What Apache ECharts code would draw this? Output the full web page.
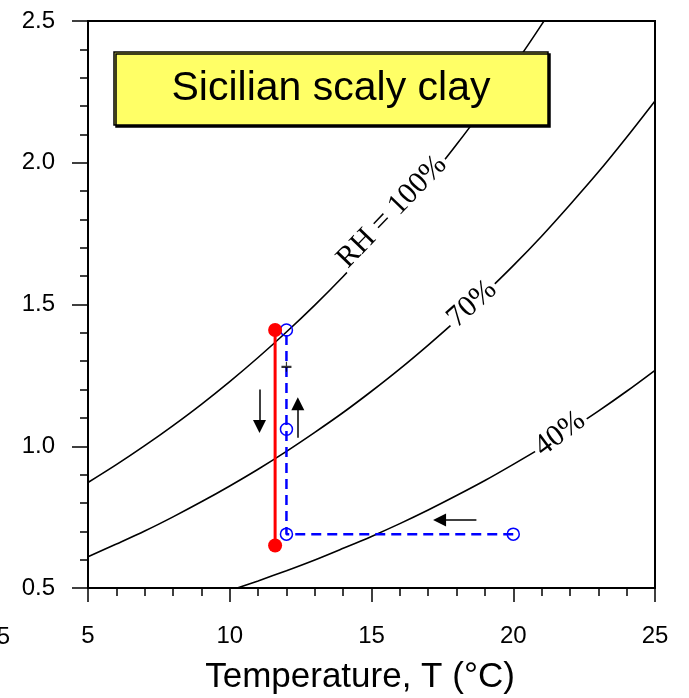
<!DOCTYPE html>
<html>
<head>
<meta charset="utf-8">
<script src="https://cdn.jsdelivr.net/npm/echarts@6/dist/echarts.min.js"></script>
<style>
  html, body { margin: 0; padding: 0; background: #fff; }
  #chart { width: 689px; height: 698px; }
</style>
</head>
<body>
<div id="chart"></div>
<script>
// Vapour pressure (kPa) against temperature for three relative humidities
const temps = [5, 6, 7, 8, 9, 10, 11, 12, 13, 14, 15, 16, 17, 18, 19, 20, 21, 22, 23, 24, 25];
const rh100 = [0.872, 0.935, 1.002, 1.073, 1.148, 1.228, 1.313, 1.403, 1.498, 1.599, 1.706, 1.818, 1.938, 2.064, 2.198, 2.339, 2.487, 2.645, 2.810, 2.985, 3.169];
const rh70  = [0.610, 0.655, 0.701, 0.751, 0.804, 0.860, 0.919, 0.982, 1.049, 1.119, 1.194, 1.273, 1.357, 1.445, 1.539, 1.637, 1.741, 1.852, 1.967, 2.090, 2.218];
const rh40  = [0.349, 0.374, 0.401, 0.429, 0.459, 0.491, 0.525, 0.561, 0.599, 0.640, 0.682, 0.727, 0.775, 0.826, 0.879, 0.936, 0.995, 1.058, 1.124, 1.194, 1.268];

// Test paths: cooling at constant vapour pressure then wetting (blue), drying (red)
const bluePathT = [20, 12, 12, 12];
const bluePathP = [0.69, 0.69, 1.06, 1.41];
const redPathT = [11.6, 11.6];
const redPathP = [1.41, 0.65];
const crossT = [12.0];
const crossP = [1.28];

// Direction arrows: [from, to]
const arrowDown = [[11.05, 1.20], [11.05, 1.07]];
const arrowUp = [[12.4, 1.03], [12.4, 1.15]];
const arrowLeft = [[18.7, 0.74], [17.4, 0.74]];

const xTicks = [5, 10, 15, 20, 25];
const yTicks = [0.5, 1.0, 1.5, 2.0, 2.5];

const zip = (xs, ys) => xs.map((x, i) => [x, ys[i]]);

const sans = 'Liberation Sans, Arial, sans-serif';
const serif = 'Liberation Serif, Times New Roman, serif';

const chart = echarts.init(document.getElementById('chart'), null, { renderer: 'canvas' });

const curve = (name, ys) => ({
  name, type: 'line', data: zip(temps, ys), smooth: 0.3, showSymbol: false,
  lineStyle: { color: '#000', width: 1.6 }, z: 2, silent: true
});

const centred = { align: 'center', verticalAlign: 'middle', textAlign: 'center', textVerticalAlign: 'middle' };

chart.setOption({
  animation: false,
  backgroundColor: '#fff',
  grid: { left: 88, right: 34, top: 21, bottom: 110, show: true, borderColor: '#000', borderWidth: 2, backgroundColor: 'transparent' },
  xAxis: {
    type: 'value', min: xTicks[0], max: xTicks[xTicks.length - 1], interval: 5,
    axisLine: { lineStyle: { color: '#000', width: 2 } },
    axisTick: { inside: false, length: 14, lineStyle: { color: '#000', width: 1.5 } },
    minorTick: { show: true, splitNumber: 5, length: 8, lineStyle: { color: '#000', width: 1.5 } },
    splitLine: { show: false },
    axisLabel: { color: '#000', fontFamily: sans, fontSize: 24, margin: 36 }
  },
  yAxis: {
    type: 'value', min: yTicks[0], max: yTicks[yTicks.length - 1], interval: 0.5,
    axisLine: { lineStyle: { color: '#000', width: 2 } },
    axisTick: { inside: false, length: 16, lineStyle: { color: '#000', width: 1.5 } },
    minorTick: { show: true, splitNumber: 5, length: 8, lineStyle: { color: '#000', width: 1.5 } },
    splitLine: { show: false },
    axisLabel: { color: '#000', fontFamily: sans, fontSize: 24, margin: 33, formatter: v => v.toFixed(1) }
  },
  series: [
    curve('RH 100%', rh100),
    curve('RH 70%', rh70),
    curve('RH 40%', rh40),
    {
      name: 'wetting', type: 'line', data: zip(bluePathT, bluePathP), z: 5,
      symbol: 'circle', symbolSize: 12, showSymbol: true,
      itemStyle: { color: 'transparent', borderColor: '#0000ff', borderWidth: 1.5 },
      lineStyle: { color: '#0000ff', width: 2.5, type: [10, 6] }
    },
    {
      name: 'mark', type: 'scatter', data: zip(crossT, crossP), z: 6,
      symbol: 'path://M0,4.4H10V5.6H0Z M4.4,2.5H5.6V7.5H4.4Z', symbolSize: 10,
      itemStyle: { color: '#000' }
    },
    {
      name: 'drying', type: 'line', data: zip(redPathT, redPathP), z: 7,
      symbol: 'circle', symbolSize: 14, showSymbol: true,
      itemStyle: { color: '#ff0000' },
      lineStyle: { color: '#ff0000', width: 3 }
    },
    {
      name: 'arrows', type: 'lines', coordinateSystem: 'cartesian2d', z: 8,
      symbol: ['none', 'triangle'], symbolSize: [10, 13],
      lineStyle: { color: '#000', width: 1.5, opacity: 1 },
      data: [arrowDown, arrowUp, arrowLeft].map(c => ({ coords: c }))
    }
  ],
  graphic: [
    {
      type: 'rect', z: 100, shape: { x: 114, y: 52, width: 434, height: 73 },
      style: { fill: '#ffff66', stroke: '#000', lineWidth: 1.5, shadowColor: '#000', shadowOffsetX: 2, shadowOffsetY: 2, shadowBlur: 0 }
    },
    {
      type: 'text', z: 101, x: 331, y: 89,
      style: Object.assign({ text: 'Sicilian scaly clay', font: '41px ' + sans, fill: '#000' }, centred)
    },
    {
      type: 'text', z: 100, x: 392, y: 212, rotation: 46 * Math.PI / 180,
      style: Object.assign({ text: 'RH = 100%', font: '30px ' + serif, fill: '#000', backgroundColor: '#fff', padding: [0, 3] }, centred)
    },
    {
      type: 'text', z: 100, x: 472, y: 304, rotation: 42 * Math.PI / 180,
      style: Object.assign({ text: '70%', font: '30px ' + serif, fill: '#000', backgroundColor: '#fff', padding: [0, 3] }, centred)
    },
    {
      type: 'text', z: 100, x: 560, y: 434, rotation: 37 * Math.PI / 180,
      style: Object.assign({ text: '40%', font: '30px ' + serif, fill: '#000', backgroundColor: '#fff', padding: [0, 3] }, centred)
    },
    {
      // x-axis title
      type: 'text', z: 100, x: 360, y: 677,
      style: Object.assign({ text: 'Temperature, T (°C)', font: '35px ' + sans, fill: '#000' }, centred)
    },
    {
      type: 'text', z: 100, x: 10, y: 637,
      style: { text: '5', font: '24px ' + sans, fill: '#000', align: 'right', verticalAlign: 'middle', textAlign: 'right', textVerticalAlign: 'middle' }
    }
  ]
});
</script>
</body>
</html>
